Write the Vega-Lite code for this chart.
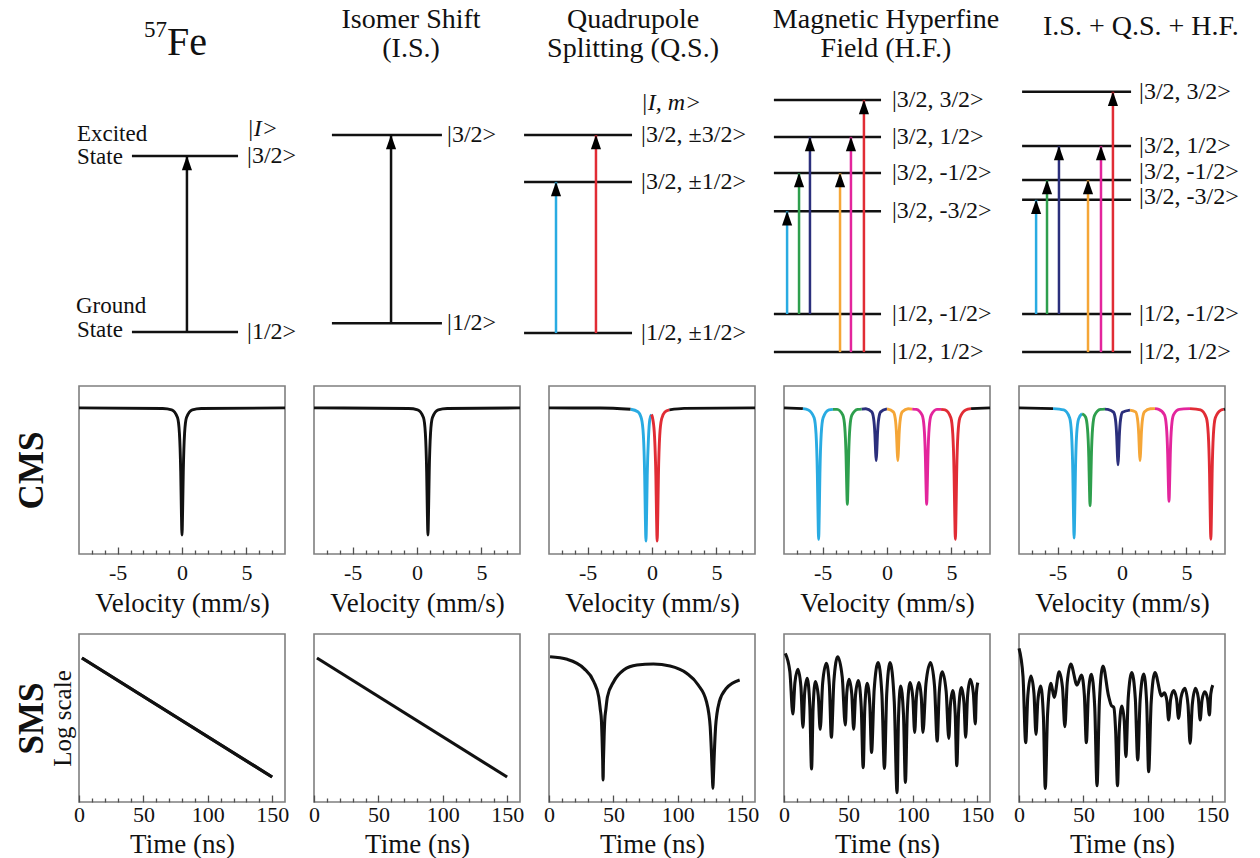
{
  "$schema": "https://vega.github.io/schema/vega-lite/v6.json",
  "background": "white",
  "padding": {"left": 13, "top": 0, "right": 4, "bottom": 2},
  "columns": 5,
  "spacing": {"row": 20, "column": 29},
  "bounds": "flush",
  "align": "each",
  "config": {
    "font": "Liberation Serif",
    "view": {"stroke": "#7f7f7f", "strokeWidth": 1.6},
    "axis": {
      "labelFont": "Liberation Serif", "titleFont": "Liberation Serif",
      "labelFontSize": 21, "titleFontSize": 27, "titleFontWeight": "normal",
      "labelColor": "#111111", "titleColor": "#111111",
      "tickColor": "#505050", "tickWidth": 1.3, "domain": false, "grid": false,
      "labelFlush": false, "labelOverlap": false
    },
    "text": {"font": "Liberation Serif", "color": "#111111"}
  },
  "datasets": {
    "levels": [
      {"col": 1, "x": 25.7, "x2": 77.2, "e": 57.4},
      {"col": 1, "x": 25.7, "x2": 77.2, "e": 9.3},
      {"col": 2, "x": 8.7, "x2": 62.1, "e": 63.1},
      {"col": 2, "x": 8.7, "x2": 62.1, "e": 11.7},
      {"col": 3, "x": -12.1, "x2": 40.3, "e": 63.1},
      {"col": 3, "x": -12.1, "x2": 40.3, "e": 50.3},
      {"col": 3, "x": -12.1, "x2": 40.3, "e": 9.0},
      {"col": 4, "x": -4.9, "x2": 47.1, "e": 72.7},
      {"col": 4, "x": -4.9, "x2": 47.1, "e": 62.6},
      {"col": 4, "x": -4.9, "x2": 47.1, "e": 52.7},
      {"col": 4, "x": -4.9, "x2": 47.1, "e": 42.3},
      {"col": 4, "x": -4.9, "x2": 47.1, "e": 14.2},
      {"col": 4, "x": -4.9, "x2": 47.1, "e": 3.8},
      {"col": 5, "x": 1.5, "x2": 54.4, "e": 74.9},
      {"col": 5, "x": 1.5, "x2": 54.4, "e": 60.1},
      {"col": 5, "x": 1.5, "x2": 54.4, "e": 50.8},
      {"col": 5, "x": 1.5, "x2": 54.4, "e": 45.4},
      {"col": 5, "x": 1.5, "x2": 54.4, "e": 14.2},
      {"col": 5, "x": 1.5, "x2": 54.4, "e": 3.8}
    ],
    "arrows": [
      {"col": 1, "x": 52.4, "e": 57.4, "e0": 9.3, "c": "k"},
      {"col": 2, "x": 37.4, "e": 63.1, "e0": 11.7, "c": "k"},
      {"col": 3, "x": 3.4, "e": 50.3, "e0": 9.0, "c": "cyan"},
      {"col": 3, "x": 22.8, "e": 63.1, "e0": 9.0, "c": "red"},
      {"col": 4, "x": 1.5, "e": 42.3, "e0": 14.2, "c": "cyan"},
      {"col": 4, "x": 7.3, "e": 52.7, "e0": 14.2, "c": "green"},
      {"col": 4, "x": 12.6, "e": 62.6, "e0": 14.2, "c": "navy"},
      {"col": 4, "x": 27.2, "e": 52.7, "e0": 3.8, "c": "orange"},
      {"col": 4, "x": 32.5, "e": 62.6, "e0": 3.8, "c": "magenta"},
      {"col": 4, "x": 38.8, "e": 72.7, "e0": 3.8, "c": "red"},
      {"col": 5, "x": 8.3, "e": 45.4, "e0": 14.2, "c": "cyan"},
      {"col": 5, "x": 13.6, "e": 50.8, "e0": 14.2, "c": "green"},
      {"col": 5, "x": 19.4, "e": 60.1, "e0": 14.2, "c": "navy"},
      {"col": 5, "x": 33.5, "e": 50.8, "e0": 3.8, "c": "orange"},
      {"col": 5, "x": 39.8, "e": 60.1, "e0": 3.8, "c": "magenta"},
      {"col": 5, "x": 45.6, "e": 74.9, "e0": 3.8, "c": "red"}
    ],
    "states": [
      {"col": 1, "x": 81.6, "e": 57.4, "t": "|3/2>"},
      {"col": 1, "x": 81.6, "e": 9.3, "t": "|1/2>"},
      {"col": 2, "x": 64.6, "e": 63.1, "t": "|3/2>"},
      {"col": 2, "x": 64.6, "e": 11.7, "t": "|1/2>"},
      {"col": 3, "x": 44.7, "e": 63.1, "t": "|3/2, ±3/2>"},
      {"col": 3, "x": 44.7, "e": 50.3, "t": "|3/2, ±1/2>"},
      {"col": 3, "x": 44.7, "e": 9.0, "t": "|1/2, ±1/2>"},
      {"col": 4, "x": 52.4, "e": 72.7, "t": "|3/2, 3/2>"},
      {"col": 4, "x": 52.4, "e": 62.6, "t": "|3/2, 1/2>"},
      {"col": 4, "x": 52.4, "e": 52.7, "t": "|3/2, -1/2>"},
      {"col": 4, "x": 52.4, "e": 42.3, "t": "|3/2, -3/2>"},
      {"col": 4, "x": 52.4, "e": 14.2, "t": "|1/2, -1/2>"},
      {"col": 4, "x": 52.4, "e": 3.8, "t": "|1/2, 1/2>"},
      {"col": 5, "x": 58.3, "e": 74.9, "t": "|3/2, 3/2>"},
      {"col": 5, "x": 58.3, "e": 60.1, "t": "|3/2, 1/2>"},
      {"col": 5, "x": 58.3, "e": 53.0, "t": "|3/2, -1/2>"},
      {"col": 5, "x": 58.3, "e": 46.2, "t": "|3/2, -3/2>"},
      {"col": 5, "x": 58.3, "e": 14.2, "t": "|1/2, -1/2>"},
      {"col": 5, "x": 58.3, "e": 3.8, "t": "|1/2, 1/2>"}
    ],
    "sides": [
      {"col": 1, "x": -1.0, "e": 63.4, "t": "Excited"},
      {"col": 1, "x": -1.0, "e": 57.0, "t": "State"},
      {"col": 1, "x": -1.5, "e": 16.4, "t": "Ground"},
      {"col": 1, "x": -1.0, "e": 9.8, "t": "State"}
    ],
    "quantum": [
      {"col": 1, "x": 81.6, "e": 64.8, "t": "|I>"},
      {"col": 3, "x": 44.7, "e": 71.9, "t": "|I, m>"}
    ],
    "heads": [
      {"col": 2, "x": 47.1, "e": 92.3, "t": "Isomer Shift"},
      {"col": 2, "x": 47.1, "e": 84.4, "t": "(I.S.)"},
      {"col": 3, "x": 40.8, "e": 92.3, "t": "Quadrupole"},
      {"col": 3, "x": 40.8, "e": 84.4, "t": "Splitting (Q.S.)"},
      {"col": 4, "x": 49.5, "e": 92.3, "t": "Magnetic Hyperfine"},
      {"col": 4, "x": 49.5, "e": 84.4, "t": "Field (H.F.)"},
      {"col": 5, "x": 59.2, "e": 90.4, "t": "I.S. + Q.S. + H.F."}
    ],
    "cms1": [
      {"c": "k", "v": -8, "tr": 1}, {"c": "k", "v": -1.5, "tr": 0.996}, {"c": "k", "v": -0.8, "tr": 0.987},
      {"c": "k", "v": -0.35, "tr": 0.934}, {"c": "k", "v": -0.2, "tr": 0.826}, {"c": "k", "v": -0.1, "tr": 0.565},
      {"c": "k", "v": -0.05, "tr": 0.304}, {"c": "k", "v": 0, "tr": 0.13}, {"c": "k", "v": 0.05, "tr": 0.304},
      {"c": "k", "v": 0.1, "tr": 0.565}, {"c": "k", "v": 0.2, "tr": 0.826}, {"c": "k", "v": 0.35, "tr": 0.934},
      {"c": "k", "v": 0.8, "tr": 0.987}, {"c": "k", "v": 1.5, "tr": 0.996}, {"c": "k", "v": 8, "tr": 1}
    ],
    "cms2": [
      {"c": "k", "v": -8, "tr": 1}, {"c": "k", "v": -0.65, "tr": 0.996}, {"c": "k", "v": 0.05, "tr": 0.987},
      {"c": "k", "v": 0.5, "tr": 0.934}, {"c": "k", "v": 0.65, "tr": 0.826}, {"c": "k", "v": 0.75, "tr": 0.565},
      {"c": "k", "v": 0.8, "tr": 0.304}, {"c": "k", "v": 0.85, "tr": 0.13}, {"c": "k", "v": 0.9, "tr": 0.304},
      {"c": "k", "v": 0.95, "tr": 0.565}, {"c": "k", "v": 1.05, "tr": 0.826}, {"c": "k", "v": 1.2, "tr": 0.934},
      {"c": "k", "v": 1.65, "tr": 0.987}, {"c": "k", "v": 2.35, "tr": 0.996}, {"c": "k", "v": 8, "tr": 1}
    ],
    "cms3": [
      {"c": "k", "v": -8, "tr": 1}, {"c": "k", "v": -4, "tr": 0.999}, {"c": "k", "v": -1.66, "tr": 0.991},
      {"c": "cyan", "v": -1.66, "tr": 0.991}, {"c": "cyan", "v": -1.1, "tr": 0.974}, {"c": "cyan", "v": -0.82, "tr": 0.926},
      {"c": "cyan", "v": -0.67, "tr": 0.812}, {"c": "cyan", "v": -0.57, "tr": 0.541}, {"c": "cyan", "v": -0.52, "tr": 0.269},
      {"c": "cyan", "v": -0.47, "tr": 0.088}, {"c": "cyan", "v": -0.42, "tr": 0.267}, {"c": "cyan", "v": -0.37, "tr": 0.535},
      {"c": "cyan", "v": -0.27, "tr": 0.8}, {"c": "cyan", "v": -0.17, "tr": 0.92}, {"c": "cyan", "v": -0.04, "tr": 0.955},
      {"c": "red", "v": -0.04, "tr": 0.955}, {"c": "red", "v": 0.07, "tr": 0.92}, {"c": "red", "v": 0.2, "tr": 0.8},
      {"c": "red", "v": 0.3, "tr": 0.535}, {"c": "red", "v": 0.35, "tr": 0.267}, {"c": "red", "v": 0.4, "tr": 0.088},
      {"c": "red", "v": 0.45, "tr": 0.269}, {"c": "red", "v": 0.5, "tr": 0.541}, {"c": "red", "v": 0.6, "tr": 0.812},
      {"c": "red", "v": 0.75, "tr": 0.926}, {"c": "red", "v": 1.0, "tr": 0.972}, {"c": "red", "v": 1.35, "tr": 0.987},
      {"c": "k2", "v": 1.35, "tr": 0.987}, {"c": "k2", "v": 2.5, "tr": 0.997}, {"c": "k2", "v": 8, "tr": 1}
    ],
    "cms4": [
      {"c": "k", "v": -8, "tr": 1}, {"c": "k", "v": -6.53, "tr": 0.995},
      {"c": "cyan", "v": -6.53, "tr": 0.995}, {"c": "cyan", "v": -6.11, "tr": 0.986}, {"c": "cyan", "v": -5.66, "tr": 0.932},
      {"c": "cyan", "v": -5.51, "tr": 0.82}, {"c": "cyan", "v": -5.41, "tr": 0.55}, {"c": "cyan", "v": -5.36, "tr": 0.28},
      {"c": "cyan", "v": -5.31, "tr": 0.1}, {"c": "cyan", "v": -5.26, "tr": 0.28}, {"c": "cyan", "v": -5.21, "tr": 0.55},
      {"c": "cyan", "v": -5.11, "tr": 0.82}, {"c": "cyan", "v": -4.96, "tr": 0.932}, {"c": "cyan", "v": -4.51, "tr": 0.986},
      {"c": "cyan", "v": -4.2, "tr": 0.99},
      {"c": "green", "v": -4.2, "tr": 0.99}, {"c": "green", "v": -3.88, "tr": 0.99}, {"c": "green", "v": -3.43, "tr": 0.95},
      {"c": "green", "v": -3.28, "tr": 0.868}, {"c": "green", "v": -3.18, "tr": 0.67}, {"c": "green", "v": -3.13, "tr": 0.472},
      {"c": "green", "v": -3.08, "tr": 0.34}, {"c": "green", "v": -3.03, "tr": 0.472}, {"c": "green", "v": -2.98, "tr": 0.67},
      {"c": "green", "v": -2.88, "tr": 0.868}, {"c": "green", "v": -2.73, "tr": 0.95}, {"c": "green", "v": -2.28, "tr": 0.99},
      {"c": "green", "v": -1.96, "tr": 0.992},
      {"c": "navy", "v": -1.96, "tr": 0.992}, {"c": "navy", "v": -1.64, "tr": 0.994}, {"c": "navy", "v": -1.19, "tr": 0.973},
      {"c": "navy", "v": -1.04, "tr": 0.928}, {"c": "navy", "v": -0.94, "tr": 0.82}, {"c": "navy", "v": -0.89, "tr": 0.712},
      {"c": "navy", "v": -0.84, "tr": 0.64}, {"c": "navy", "v": -0.79, "tr": 0.712}, {"c": "navy", "v": -0.74, "tr": 0.82},
      {"c": "navy", "v": -0.64, "tr": 0.928}, {"c": "navy", "v": -0.49, "tr": 0.973}, {"c": "navy", "v": 0, "tr": 0.993},
      {"c": "orange", "v": 0, "tr": 0.993}, {"c": "orange", "v": 0.49, "tr": 0.973}, {"c": "orange", "v": 0.64, "tr": 0.928},
      {"c": "orange", "v": 0.74, "tr": 0.82}, {"c": "orange", "v": 0.79, "tr": 0.712}, {"c": "orange", "v": 0.84, "tr": 0.64},
      {"c": "orange", "v": 0.89, "tr": 0.712}, {"c": "orange", "v": 0.94, "tr": 0.82}, {"c": "orange", "v": 1.04, "tr": 0.928},
      {"c": "orange", "v": 1.19, "tr": 0.973}, {"c": "orange", "v": 1.64, "tr": 0.994}, {"c": "orange", "v": 1.96, "tr": 0.992},
      {"c": "magenta", "v": 1.96, "tr": 0.992}, {"c": "magenta", "v": 2.28, "tr": 0.99}, {"c": "magenta", "v": 2.73, "tr": 0.95},
      {"c": "magenta", "v": 2.88, "tr": 0.868}, {"c": "magenta", "v": 2.98, "tr": 0.67}, {"c": "magenta", "v": 3.03, "tr": 0.472},
      {"c": "magenta", "v": 3.08, "tr": 0.34}, {"c": "magenta", "v": 3.13, "tr": 0.472}, {"c": "magenta", "v": 3.18, "tr": 0.67},
      {"c": "magenta", "v": 3.28, "tr": 0.868}, {"c": "magenta", "v": 3.43, "tr": 0.95}, {"c": "magenta", "v": 3.88, "tr": 0.99},
      {"c": "magenta", "v": 4.2, "tr": 0.99},
      {"c": "red", "v": 4.2, "tr": 0.99}, {"c": "red", "v": 4.51, "tr": 0.986}, {"c": "red", "v": 4.96, "tr": 0.932},
      {"c": "red", "v": 5.11, "tr": 0.82}, {"c": "red", "v": 5.21, "tr": 0.55}, {"c": "red", "v": 5.26, "tr": 0.28},
      {"c": "red", "v": 5.31, "tr": 0.1}, {"c": "red", "v": 5.36, "tr": 0.28}, {"c": "red", "v": 5.41, "tr": 0.55},
      {"c": "red", "v": 5.51, "tr": 0.82}, {"c": "red", "v": 5.66, "tr": 0.932}, {"c": "red", "v": 6.11, "tr": 0.986},
      {"c": "red", "v": 6.53, "tr": 0.995},
      {"c": "k2", "v": 6.53, "tr": 0.995}, {"c": "k2", "v": 8, "tr": 1}
    ],
    "cms5": [
      {"c": "k", "v": -8, "tr": 1}, {"c": "k", "v": -5.36, "tr": 0.995},
      {"c": "cyan", "v": -5.36, "tr": 0.995}, {"c": "cyan", "v": -4.52, "tr": 0.986}, {"c": "cyan", "v": -4.07, "tr": 0.933},
      {"c": "cyan", "v": -3.92, "tr": 0.822}, {"c": "cyan", "v": -3.82, "tr": 0.555}, {"c": "cyan", "v": -3.77, "tr": 0.288},
      {"c": "cyan", "v": -3.72, "tr": 0.11}, {"c": "cyan", "v": -3.67, "tr": 0.288}, {"c": "cyan", "v": -3.62, "tr": 0.555},
      {"c": "cyan", "v": -3.52, "tr": 0.822}, {"c": "cyan", "v": -3.37, "tr": 0.925}, {"c": "cyan", "v": -3.1, "tr": 0.96},
      {"c": "green", "v": -3.1, "tr": 0.96}, {"c": "green", "v": -2.83, "tr": 0.938}, {"c": "green", "v": -2.68, "tr": 0.858},
      {"c": "green", "v": -2.58, "tr": 0.665}, {"c": "green", "v": -2.53, "tr": 0.464}, {"c": "green", "v": -2.48, "tr": 0.33},
      {"c": "green", "v": -2.43, "tr": 0.464}, {"c": "green", "v": -2.38, "tr": 0.665}, {"c": "green", "v": -2.28, "tr": 0.866},
      {"c": "green", "v": -2.13, "tr": 0.949}, {"c": "green", "v": -1.68, "tr": 0.99}, {"c": "green", "v": -1.32, "tr": 0.992},
      {"c": "navy", "v": -1.32, "tr": 0.992}, {"c": "navy", "v": -1.11, "tr": 0.99}, {"c": "navy", "v": -0.66, "tr": 0.971},
      {"c": "navy", "v": -0.51, "tr": 0.922}, {"c": "navy", "v": -0.41, "tr": 0.805}, {"c": "navy", "v": -0.36, "tr": 0.688},
      {"c": "navy", "v": -0.31, "tr": 0.61}, {"c": "navy", "v": -0.26, "tr": 0.688}, {"c": "navy", "v": -0.21, "tr": 0.805},
      {"c": "navy", "v": -0.11, "tr": 0.922}, {"c": "navy", "v": 0.04, "tr": 0.97}, {"c": "navy", "v": 0.62, "tr": 0.985},
      {"c": "orange", "v": 0.62, "tr": 0.985}, {"c": "orange", "v": 1.05, "tr": 0.973}, {"c": "orange", "v": 1.2, "tr": 0.928},
      {"c": "orange", "v": 1.3, "tr": 0.82}, {"c": "orange", "v": 1.35, "tr": 0.712}, {"c": "orange", "v": 1.4, "tr": 0.64},
      {"c": "orange", "v": 1.45, "tr": 0.712}, {"c": "orange", "v": 1.5, "tr": 0.82}, {"c": "orange", "v": 1.6, "tr": 0.928},
      {"c": "orange", "v": 1.75, "tr": 0.973}, {"c": "orange", "v": 2.2, "tr": 0.994}, {"c": "orange", "v": 2.56, "tr": 0.995},
      {"c": "magenta", "v": 2.56, "tr": 0.995}, {"c": "magenta", "v": 2.85, "tr": 0.99}, {"c": "magenta", "v": 3.3, "tr": 0.952},
      {"c": "magenta", "v": 3.45, "tr": 0.872}, {"c": "magenta", "v": 3.55, "tr": 0.68}, {"c": "magenta", "v": 3.6, "tr": 0.488},
      {"c": "magenta", "v": 3.65, "tr": 0.36}, {"c": "magenta", "v": 3.7, "tr": 0.488}, {"c": "magenta", "v": 3.75, "tr": 0.68},
      {"c": "magenta", "v": 3.85, "tr": 0.872}, {"c": "magenta", "v": 4.0, "tr": 0.952}, {"c": "magenta", "v": 4.45, "tr": 0.99},
      {"c": "magenta", "v": 5.28, "tr": 0.995},
      {"c": "red", "v": 5.28, "tr": 0.995}, {"c": "red", "v": 6.1, "tr": 0.986}, {"c": "red", "v": 6.55, "tr": 0.932},
      {"c": "red", "v": 6.7, "tr": 0.82}, {"c": "red", "v": 6.8, "tr": 0.55}, {"c": "red", "v": 6.85, "tr": 0.28},
      {"c": "red", "v": 6.9, "tr": 0.1}, {"c": "red", "v": 6.95, "tr": 0.28}, {"c": "red", "v": 7.0, "tr": 0.55},
      {"c": "red", "v": 7.1, "tr": 0.82}, {"c": "red", "v": 7.25, "tr": 0.932}, {"c": "red", "v": 7.7, "tr": 0.986},
      {"c": "red", "v": 7.9, "tr": 0.99},
      {"c": "k2", "v": 7.9, "tr": 0.99}, {"c": "k2", "v": 8, "tr": 0.992}
    ],
    "sms1": [{"t": 2.3, "lg": -0.429}, {"t": 150, "lg": -2.554}],
    "sms2": [{"t": 2.3, "lg": -0.429}, {"t": 150, "lg": -2.554}],
    "sms3": [
      {"t": 0.8, "lg": -0.405}, {"t": 14.1, "lg": -0.452}, {"t": 27, "lg": -0.613}, {"t": 34.8, "lg": -0.852},
      {"t": 38.6, "lg": -1.12}, {"t": 39.9, "lg": -1.357}, {"t": 40.7, "lg": -1.536}, {"t": 41.2, "lg": -1.834},
      {"t": 41.7, "lg": -2.25}, {"t": 42.0, "lg": -2.607}, {"t": 42.3, "lg": -2.25}, {"t": 42.8, "lg": -1.834},
      {"t": 43.3, "lg": -1.536}, {"t": 44.1, "lg": -1.357}, {"t": 45.4, "lg": -1.12}, {"t": 50.2, "lg": -0.852},
      {"t": 58, "lg": -0.643}, {"t": 68.3, "lg": -0.554}, {"t": 81.1, "lg": -0.536}, {"t": 94, "lg": -0.571},
      {"t": 106.9, "lg": -0.702}, {"t": 115.9, "lg": -0.911}, {"t": 122.3, "lg": -1.209}, {"t": 124.1, "lg": -1.416},
      {"t": 125.2, "lg": -1.655}, {"t": 126.2, "lg": -2.125}, {"t": 127.0, "lg": -2.607}, {"t": 127.3, "lg": -2.755},
      {"t": 127.6, "lg": -2.607}, {"t": 128.4, "lg": -2.125}, {"t": 129.4, "lg": -1.655}, {"t": 130.5, "lg": -1.416},
      {"t": 132.3, "lg": -1.209}, {"t": 137.8, "lg": -0.97}, {"t": 148.1, "lg": -0.821}
    ],
    "sms4": [
      {"t": 1.0, "lg": -0.345}, {"t": 4.54, "lg": -0.67}, {"t": 6.9, "lg": -1.429}, {"t": 8.46, "lg": -0.87},
      {"t": 10.8, "lg": -0.631}, {"t": 13.14, "lg": -0.942}, {"t": 14.7, "lg": -1.667}, {"t": 16.02, "lg": -1.054},
      {"t": 18.0, "lg": -0.792}, {"t": 20.04, "lg": -1.278}, {"t": 21.4, "lg": -2.411}, {"t": 22.6, "lg": -1.319},
      {"t": 24.4, "lg": -0.851}, {"t": 26.62, "lg": -1.106}, {"t": 28.1, "lg": -1.702}, {"t": 30.02, "lg": -0.877},
      {"t": 32.9, "lg": -0.524}, {"t": 35.24, "lg": -0.92}, {"t": 36.8, "lg": -1.845}, {"t": 38.76, "lg": -0.837},
      {"t": 41.7, "lg": -0.405}, {"t": 45.24, "lg": -0.771}, {"t": 47.6, "lg": -1.625}, {"t": 48.76, "lg": -1.055},
      {"t": 50.5, "lg": -0.81}, {"t": 52.66, "lg": -1.078}, {"t": 54.1, "lg": -1.702}, {"t": 55.54, "lg": -1.094},
      {"t": 57.7, "lg": -0.833}, {"t": 59.98, "lg": -1.299}, {"t": 61.5, "lg": -2.387}, {"t": 62.74, "lg": -1.333},
      {"t": 64.6, "lg": -0.881}, {"t": 66.64, "lg": -1.251}, {"t": 68.0, "lg": -2.113}, {"t": 70.04, "lg": -0.992},
      {"t": 73.1, "lg": -0.512}, {"t": 76.04, "lg": -1.078}, {"t": 78.0, "lg": -2.399}, {"t": 79.76, "lg": -1.078},
      {"t": 82.4, "lg": -0.512}, {"t": 85.64, "lg": -1.208}, {"t": 87.8, "lg": -2.833}, {"t": 88.92, "lg": -1.5},
      {"t": 90.6, "lg": -0.929}, {"t": 92.82, "lg": -1.445}, {"t": 94.3, "lg": -2.649}, {"t": 95.74, "lg": -1.403},
      {"t": 97.9, "lg": -0.869}, {"t": 100.06, "lg": -1.135}, {"t": 101.5, "lg": -1.756}, {"t": 102.82, "lg": -1.135},
      {"t": 104.8, "lg": -0.869}, {"t": 106.66, "lg": -1.135}, {"t": 107.9, "lg": -1.756}, {"t": 110.26, "lg": -0.885},
      {"t": 113.8, "lg": -0.512}, {"t": 116.92, "lg": -0.932}, {"t": 119.0, "lg": -1.911}, {"t": 120.56, "lg": -1.044},
      {"t": 122.9, "lg": -0.673}, {"t": 125.96, "lg": -1.03}, {"t": 128.0, "lg": -1.863}, {"t": 129.24, "lg": -1.267},
      {"t": 131.1, "lg": -1.012}, {"t": 132.96, "lg": -1.414}, {"t": 134.2, "lg": -2.351}, {"t": 135.64, "lg": -1.376},
      {"t": 137.8, "lg": -0.958}, {"t": 139.78, "lg": -1.224}, {"t": 141.1, "lg": -1.845}, {"t": 142.54, "lg": -1.121},
      {"t": 144.7, "lg": -0.81}, {"t": 147.04, "lg": -1.049}, {"t": 148.6, "lg": -1.607}, {"t": 149.36, "lg": -1.09},
      {"t": 150.5, "lg": -0.869}
    ],
    "sms5": [
      {"t": 0.0, "lg": -0.256}, {"t": 3.12, "lg": -0.761}, {"t": 5.2, "lg": -1.94}, {"t": 6.84, "lg": -1.107},
      {"t": 9.3, "lg": -0.75}, {"t": 11.64, "lg": -1.063}, {"t": 13.2, "lg": -1.792}, {"t": 14.64, "lg": -1.188},
      {"t": 16.8, "lg": -0.929}, {"t": 18.96, "lg": -1.477}, {"t": 20.4, "lg": -2.756}, {"t": 22.16, "lg": -1.444},
      {"t": 24.8, "lg": -0.881}, {"t": 27.3, "lg": -1.131}, {"t": 31.2, "lg": -0.673}, {"t": 33.84, "lg": -0.968},
      {"t": 35.6, "lg": -1.655}, {"t": 37.44, "lg": -0.872}, {"t": 40.2, "lg": -0.536}, {"t": 45.1, "lg": -0.911},
      {"t": 48.5, "lg": -0.732}, {"t": 50.78, "lg": -1.094}, {"t": 52.3, "lg": -1.94}, {"t": 53.86, "lg": -1.086},
      {"t": 56.2, "lg": -0.72}, {"t": 58.84, "lg": -1.316}, {"t": 60.6, "lg": -2.708}, {"t": 62.44, "lg": -1.212},
      {"t": 65.2, "lg": -0.571}, {"t": 69.5, "lg": -1.1}, {"t": 71.8, "lg": -1.28}, {"t": 73.6, "lg": -1.31},
      {"t": 75.06, "lg": -1.729}, {"t": 76.5, "lg": -2.708}, {"t": 77.86, "lg": -1.713}, {"t": 79.9, "lg": -1.286},
      {"t": 81.76, "lg": -1.557}, {"t": 83.0, "lg": -2.19}, {"t": 84.84, "lg": -1.14}, {"t": 87.6, "lg": -0.69},
      {"t": 90.36, "lg": -1.158}, {"t": 92.2, "lg": -2.25}, {"t": 94.08, "lg": -1.175}, {"t": 96.9, "lg": -0.714},
      {"t": 99.18, "lg": -1.237}, {"t": 100.7, "lg": -2.458}, {"t": 102.66, "lg": -1.22}, {"t": 105.6, "lg": -0.69},
      {"t": 110.8, "lg": -1.107}, {"t": 112.9, "lg": -1.048}, {"t": 114.88, "lg": -1.194}, {"t": 116.2, "lg": -1.536},
      {"t": 117.76, "lg": -1.169}, {"t": 120.1, "lg": -1.012}, {"t": 122.38, "lg": -1.16}, {"t": 123.9, "lg": -1.506},
      {"t": 125.86, "lg": -1.131}, {"t": 128.8, "lg": -0.97}, {"t": 131.26, "lg": -1.265}, {"t": 132.9, "lg": -1.952},
      {"t": 134.58, "lg": -1.265}, {"t": 137.1, "lg": -0.97}, {"t": 139.26, "lg": -1.14}, {"t": 140.7, "lg": -1.536},
      {"t": 142.14, "lg": -1.182}, {"t": 144.3, "lg": -1.03}, {"t": 146.46, "lg": -1.155}, {"t": 147.9, "lg": -1.446},
      {"t": 148.94, "lg": -1.072}, {"t": 150.5, "lg": -0.911}
    ]
  },
  "concat": [
    {
      "width": 206, "height": 366, "view": {"stroke": null},
      "encoding": {
        "x": {"field": "x", "type": "quantitative", "scale": {"domain": [0, 100], "nice": false, "zero": false}, "axis": null},
        "y": {"field": "e", "type": "quantitative", "scale": {"domain": [0, 100], "nice": false, "zero": false}, "axis": null}
      },
      "layer": [
        {"data": {"name": "levels"}, "transform": [{"filter": "datum.col === 1"}], "mark": {"type": "rule", "strokeWidth": 2.5, "color": "#111111"}, "encoding": {"x2": {"field": "x2"}}},
        {"data": {"name": "arrows"}, "transform": [{"filter": "datum.col === 1"}], "mark": {"type": "rule", "strokeWidth": 2.5}, "encoding": {"y2": {"field": "e0"}, "color": {"field": "c", "type": "nominal", "legend": null, "scale": {"domain": ["k", "k2", "cyan", "green", "navy", "orange", "magenta", "red"], "range": ["#111111", "#111111", "#29abe2", "#2e9f4d", "#2b2f7c", "#f5a637", "#e3259c", "#e12c35"]}}}},
        {"data": {"name": "arrows"}, "transform": [{"filter": "datum.col === 1"}], "mark": {"type": "point", "shape": "M0,-1L-0.7,1L0.7,1Z", "filled": true, "color": "#000000", "opacity": 1, "size": 210, "yOffset": 7}},
        {"data": {"name": "states"}, "transform": [{"filter": "datum.col === 1"}], "mark": {"type": "text", "align": "left", "baseline": "middle", "fontSize": 24}, "encoding": {"text": {"field": "t"}}},
        {"data": {"name": "sides"}, "mark": {"type": "text", "align": "left", "baseline": "middle", "fontSize": 23}, "encoding": {"text": {"field": "t"}}},
        {"data": {"name": "quantum"}, "transform": [{"filter": "datum.col === 1"}], "mark": {"type": "text", "align": "left", "baseline": "middle", "fontSize": 24, "fontStyle": "italic"}, "encoding": {"text": {"field": "t"}}},
        {"data": {"values": [{"x": 42.7, "e": 90.0, "t": "57"}]}, "mark": {"type": "text", "align": "right", "baseline": "alphabetic", "fontSize": 23}, "encoding": {"text": {"field": "t"}}},
        {"data": {"values": [{"x": 42.7, "e": 85.0, "t": "Fe"}]}, "mark": {"type": "text", "align": "left", "baseline": "alphabetic", "fontSize": 40}, "encoding": {"text": {"field": "t"}}}
      ]
    },
    {
      "width": 206, "height": 366, "view": {"stroke": null},
      "encoding": {
        "x": {"field": "x", "type": "quantitative", "scale": {"domain": [0, 100], "nice": false, "zero": false}, "axis": null},
        "y": {"field": "e", "type": "quantitative", "scale": {"domain": [0, 100], "nice": false, "zero": false}, "axis": null}
      },
      "layer": [
        {"data": {"name": "levels"}, "transform": [{"filter": "datum.col === 2"}], "mark": {"type": "rule", "strokeWidth": 2.5, "color": "#111111"}, "encoding": {"x2": {"field": "x2"}}},
        {"data": {"name": "arrows"}, "transform": [{"filter": "datum.col === 2"}], "mark": {"type": "rule", "strokeWidth": 2.5}, "encoding": {"y2": {"field": "e0"}, "color": {"field": "c", "type": "nominal", "legend": null, "scale": {"domain": ["k", "k2", "cyan", "green", "navy", "orange", "magenta", "red"], "range": ["#111111", "#111111", "#29abe2", "#2e9f4d", "#2b2f7c", "#f5a637", "#e3259c", "#e12c35"]}}}},
        {"data": {"name": "arrows"}, "transform": [{"filter": "datum.col === 2"}], "mark": {"type": "point", "shape": "M0,-1L-0.7,1L0.7,1Z", "filled": true, "color": "#000000", "opacity": 1, "size": 210, "yOffset": 7}},
        {"data": {"name": "states"}, "transform": [{"filter": "datum.col === 2"}], "mark": {"type": "text", "align": "left", "baseline": "middle", "fontSize": 24}, "encoding": {"text": {"field": "t"}}},
        {"data": {"name": "heads"}, "transform": [{"filter": "datum.col === 2"}], "mark": {"type": "text", "align": "center", "baseline": "alphabetic", "fontSize": 28}, "encoding": {"text": {"field": "t"}}}
      ]
    },
    {
      "width": 206, "height": 366, "view": {"stroke": null},
      "encoding": {
        "x": {"field": "x", "type": "quantitative", "scale": {"domain": [0, 100], "nice": false, "zero": false}, "axis": null},
        "y": {"field": "e", "type": "quantitative", "scale": {"domain": [0, 100], "nice": false, "zero": false}, "axis": null}
      },
      "layer": [
        {"data": {"name": "levels"}, "transform": [{"filter": "datum.col === 3"}], "mark": {"type": "rule", "strokeWidth": 2.5, "color": "#111111"}, "encoding": {"x2": {"field": "x2"}}},
        {"data": {"name": "arrows"}, "transform": [{"filter": "datum.col === 3"}], "mark": {"type": "rule", "strokeWidth": 2.5}, "encoding": {"y2": {"field": "e0"}, "color": {"field": "c", "type": "nominal", "legend": null, "scale": {"domain": ["k", "k2", "cyan", "green", "navy", "orange", "magenta", "red"], "range": ["#111111", "#111111", "#29abe2", "#2e9f4d", "#2b2f7c", "#f5a637", "#e3259c", "#e12c35"]}}}},
        {"data": {"name": "arrows"}, "transform": [{"filter": "datum.col === 3"}], "mark": {"type": "point", "shape": "M0,-1L-0.7,1L0.7,1Z", "filled": true, "color": "#000000", "opacity": 1, "size": 210, "yOffset": 7}},
        {"data": {"name": "states"}, "transform": [{"filter": "datum.col === 3"}], "mark": {"type": "text", "align": "left", "baseline": "middle", "fontSize": 24}, "encoding": {"text": {"field": "t"}}},
        {"data": {"name": "quantum"}, "transform": [{"filter": "datum.col === 3"}], "mark": {"type": "text", "align": "left", "baseline": "middle", "fontSize": 24, "fontStyle": "italic"}, "encoding": {"text": {"field": "t"}}},
        {"data": {"name": "heads"}, "transform": [{"filter": "datum.col === 3"}], "mark": {"type": "text", "align": "center", "baseline": "alphabetic", "fontSize": 28}, "encoding": {"text": {"field": "t"}}}
      ]
    },
    {
      "width": 206, "height": 366, "view": {"stroke": null},
      "encoding": {
        "x": {"field": "x", "type": "quantitative", "scale": {"domain": [0, 100], "nice": false, "zero": false}, "axis": null},
        "y": {"field": "e", "type": "quantitative", "scale": {"domain": [0, 100], "nice": false, "zero": false}, "axis": null}
      },
      "layer": [
        {"data": {"name": "levels"}, "transform": [{"filter": "datum.col === 4"}], "mark": {"type": "rule", "strokeWidth": 2.5, "color": "#111111"}, "encoding": {"x2": {"field": "x2"}}},
        {"data": {"name": "arrows"}, "transform": [{"filter": "datum.col === 4"}], "mark": {"type": "rule", "strokeWidth": 2.5}, "encoding": {"y2": {"field": "e0"}, "color": {"field": "c", "type": "nominal", "legend": null, "scale": {"domain": ["k", "k2", "cyan", "green", "navy", "orange", "magenta", "red"], "range": ["#111111", "#111111", "#29abe2", "#2e9f4d", "#2b2f7c", "#f5a637", "#e3259c", "#e12c35"]}}}},
        {"data": {"name": "arrows"}, "transform": [{"filter": "datum.col === 4"}], "mark": {"type": "point", "shape": "M0,-1L-0.7,1L0.7,1Z", "filled": true, "color": "#000000", "opacity": 1, "size": 210, "yOffset": 7}},
        {"data": {"name": "states"}, "transform": [{"filter": "datum.col === 4"}], "mark": {"type": "text", "align": "left", "baseline": "middle", "fontSize": 24}, "encoding": {"text": {"field": "t"}}},
        {"data": {"name": "heads"}, "transform": [{"filter": "datum.col === 4"}], "mark": {"type": "text", "align": "center", "baseline": "alphabetic", "fontSize": 28}, "encoding": {"text": {"field": "t"}}}
      ]
    },
    {
      "width": 206, "height": 366, "view": {"stroke": null},
      "encoding": {
        "x": {"field": "x", "type": "quantitative", "scale": {"domain": [0, 100], "nice": false, "zero": false}, "axis": null},
        "y": {"field": "e", "type": "quantitative", "scale": {"domain": [0, 100], "nice": false, "zero": false}, "axis": null}
      },
      "layer": [
        {"data": {"name": "levels"}, "transform": [{"filter": "datum.col === 5"}], "mark": {"type": "rule", "strokeWidth": 2.5, "color": "#111111"}, "encoding": {"x2": {"field": "x2"}}},
        {"data": {"name": "arrows"}, "transform": [{"filter": "datum.col === 5"}], "mark": {"type": "rule", "strokeWidth": 2.5}, "encoding": {"y2": {"field": "e0"}, "color": {"field": "c", "type": "nominal", "legend": null, "scale": {"domain": ["k", "k2", "cyan", "green", "navy", "orange", "magenta", "red"], "range": ["#111111", "#111111", "#29abe2", "#2e9f4d", "#2b2f7c", "#f5a637", "#e3259c", "#e12c35"]}}}},
        {"data": {"name": "arrows"}, "transform": [{"filter": "datum.col === 5"}], "mark": {"type": "point", "shape": "M0,-1L-0.7,1L0.7,1Z", "filled": true, "color": "#000000", "opacity": 1, "size": 210, "yOffset": 7}},
        {"data": {"name": "states"}, "transform": [{"filter": "datum.col === 5"}], "mark": {"type": "text", "align": "left", "baseline": "middle", "fontSize": 24}, "encoding": {"text": {"field": "t"}}},
        {"data": {"name": "heads"}, "transform": [{"filter": "datum.col === 5"}], "mark": {"type": "text", "align": "center", "baseline": "alphabetic", "fontSize": 28}, "encoding": {"text": {"field": "t"}}}
      ]
    },
    {
      "width": 206, "height": 168,
      "data": {"name": "cms1"},
      "mark": {"type": "line", "interpolate": "monotone", "strokeWidth": 2.9},
      "encoding": {
        "x": {"field": "v", "type": "quantitative", "scale": {"domain": [-8, 8], "nice": false, "zero": false}, "axis": {"values": [-7, -6, -5, -4, -3, -2, -1, 0, 1, 2, 3, 4, 5, 6, 7], "tickSize": {"condition": {"test": "datum.value % 5 === 0", "value": -7}, "value": -4}, "labelExpr": "datum.value % 5 === 0 ? replace(datum.label, '−', '-') : ''", "labelFont": "Liberation Serif", "titleFont": "Liberation Serif", "labelFontSize": 22, "titleFontSize": 27, "labelPadding": 15, "title": "Velocity (mm/s)", "titlePadding": 4}},
        "y": {"field": "tr", "type": "quantitative", "scale": {"domain": [0, 1.15], "nice": false}, "axis": {"title": "CMS", "labels": false, "ticks": false, "titleFont": "Liberation Serif", "titleFontSize": 35, "titleFontWeight": "bold", "titlePadding": 30}},
        "color": {"field": "c", "type": "nominal", "legend": null, "scale": {"domain": ["k", "k2", "cyan", "green", "navy", "orange", "magenta", "red"], "range": ["#111111", "#111111", "#29abe2", "#2e9f4d", "#2b2f7c", "#f5a637", "#e3259c", "#e12c35"]}}
      }
    },
    {
      "width": 206, "height": 168,
      "data": {"name": "cms2"},
      "mark": {"type": "line", "interpolate": "monotone", "strokeWidth": 2.9},
      "encoding": {
        "x": {"field": "v", "type": "quantitative", "scale": {"domain": [-8, 8], "nice": false, "zero": false}, "axis": {"values": [-7, -6, -5, -4, -3, -2, -1, 0, 1, 2, 3, 4, 5, 6, 7], "tickSize": {"condition": {"test": "datum.value % 5 === 0", "value": -7}, "value": -4}, "labelExpr": "datum.value % 5 === 0 ? replace(datum.label, '−', '-') : ''", "labelFont": "Liberation Serif", "titleFont": "Liberation Serif", "labelFontSize": 22, "titleFontSize": 27, "labelPadding": 15, "title": "Velocity (mm/s)", "titlePadding": 4}},
        "y": {"field": "tr", "type": "quantitative", "scale": {"domain": [0, 1.15], "nice": false}, "axis": null},
        "color": {"field": "c", "type": "nominal", "legend": null, "scale": {"domain": ["k", "k2", "cyan", "green", "navy", "orange", "magenta", "red"], "range": ["#111111", "#111111", "#29abe2", "#2e9f4d", "#2b2f7c", "#f5a637", "#e3259c", "#e12c35"]}}
      }
    },
    {
      "width": 206, "height": 168,
      "data": {"name": "cms3"},
      "mark": {"type": "line", "interpolate": "monotone", "strokeWidth": 2.9},
      "encoding": {
        "x": {"field": "v", "type": "quantitative", "scale": {"domain": [-8, 8], "nice": false, "zero": false}, "axis": {"values": [-7, -6, -5, -4, -3, -2, -1, 0, 1, 2, 3, 4, 5, 6, 7], "tickSize": {"condition": {"test": "datum.value % 5 === 0", "value": -7}, "value": -4}, "labelExpr": "datum.value % 5 === 0 ? replace(datum.label, '−', '-') : ''", "labelFont": "Liberation Serif", "titleFont": "Liberation Serif", "labelFontSize": 22, "titleFontSize": 27, "labelPadding": 15, "title": "Velocity (mm/s)", "titlePadding": 4}},
        "y": {"field": "tr", "type": "quantitative", "scale": {"domain": [0, 1.15], "nice": false}, "axis": null},
        "color": {"field": "c", "type": "nominal", "legend": null, "scale": {"domain": ["k", "k2", "cyan", "green", "navy", "orange", "magenta", "red"], "range": ["#111111", "#111111", "#29abe2", "#2e9f4d", "#2b2f7c", "#f5a637", "#e3259c", "#e12c35"]}}
      }
    },
    {
      "width": 206, "height": 168,
      "data": {"name": "cms4"},
      "mark": {"type": "line", "interpolate": "monotone", "strokeWidth": 2.9},
      "encoding": {
        "x": {"field": "v", "type": "quantitative", "scale": {"domain": [-8, 8], "nice": false, "zero": false}, "axis": {"values": [-7, -6, -5, -4, -3, -2, -1, 0, 1, 2, 3, 4, 5, 6, 7], "tickSize": {"condition": {"test": "datum.value % 5 === 0", "value": -7}, "value": -4}, "labelExpr": "datum.value % 5 === 0 ? replace(datum.label, '−', '-') : ''", "labelFont": "Liberation Serif", "titleFont": "Liberation Serif", "labelFontSize": 22, "titleFontSize": 27, "labelPadding": 15, "title": "Velocity (mm/s)", "titlePadding": 4}},
        "y": {"field": "tr", "type": "quantitative", "scale": {"domain": [0, 1.15], "nice": false}, "axis": null},
        "color": {"field": "c", "type": "nominal", "legend": null, "scale": {"domain": ["k", "k2", "cyan", "green", "navy", "orange", "magenta", "red"], "range": ["#111111", "#111111", "#29abe2", "#2e9f4d", "#2b2f7c", "#f5a637", "#e3259c", "#e12c35"]}}
      }
    },
    {
      "width": 206, "height": 168,
      "data": {"name": "cms5"},
      "mark": {"type": "line", "interpolate": "monotone", "strokeWidth": 2.9},
      "encoding": {
        "x": {"field": "v", "type": "quantitative", "scale": {"domain": [-8, 8], "nice": false, "zero": false}, "axis": {"values": [-7, -6, -5, -4, -3, -2, -1, 0, 1, 2, 3, 4, 5, 6, 7], "tickSize": {"condition": {"test": "datum.value % 5 === 0", "value": -7}, "value": -4}, "labelExpr": "datum.value % 5 === 0 ? replace(datum.label, '−', '-') : ''", "labelFont": "Liberation Serif", "titleFont": "Liberation Serif", "labelFontSize": 22, "titleFontSize": 27, "labelPadding": 15, "title": "Velocity (mm/s)", "titlePadding": 4}},
        "y": {"field": "tr", "type": "quantitative", "scale": {"domain": [0, 1.15], "nice": false}, "axis": null},
        "color": {"field": "c", "type": "nominal", "legend": null, "scale": {"domain": ["k", "k2", "cyan", "green", "navy", "orange", "magenta", "red"], "range": ["#111111", "#111111", "#29abe2", "#2e9f4d", "#2b2f7c", "#f5a637", "#e3259c", "#e12c35"]}}
      }
    },
    {"width": 206, "height": 40, "view": {"stroke": null}, "data": {"values": [{}]}, "mark": {"type": "text", "text": ""}, "encoding": {}},
    {"width": 206, "height": 40, "view": {"stroke": null}, "data": {"values": [{}]}, "mark": {"type": "text", "text": ""}, "encoding": {}},
    {"width": 206, "height": 40, "view": {"stroke": null}, "data": {"values": [{}]}, "mark": {"type": "text", "text": ""}, "encoding": {}},
    {"width": 206, "height": 40, "view": {"stroke": null}, "data": {"values": [{}]}, "mark": {"type": "text", "text": ""}, "encoding": {}},
    {"width": 206, "height": 40, "view": {"stroke": null}, "data": {"values": [{}]}, "mark": {"type": "text", "text": ""}, "encoding": {}},
    {
      "width": 206, "height": 168,
      "data": {"name": "sms1"},
      "encoding": {
        "x": {"field": "t", "type": "quantitative", "scale": {"domain": [0, 160], "nice": false, "zero": false}, "axis": {"values": [0, 10, 20, 30, 40, 50, 60, 70, 80, 90, 100, 110, 120, 130, 140, 150], "tickSize": {"condition": {"test": "datum.value % 50 === 0", "value": -7}, "value": -4}, "labelExpr": "datum.value % 50 === 0 ? datum.label : ''", "labelFont": "Liberation Serif", "titleFont": "Liberation Serif", "labelFontSize": 22, "titleFontSize": 27, "labelPadding": 9.5, "title": "Time (ns)", "titlePadding": 3}}
      },
      "layer": [
        {"mark": {"type": "line", "interpolate": "monotone", "strokeWidth": 3.1, "color": "#111111"},
         "encoding": {"y": {"field": "lg", "type": "quantitative", "scale": {"domain": [-3, 0], "nice": false}, "axis": {"orient": "left", "title": "Log scale", "labels": false, "ticks": false, "titleFont": "Liberation Serif", "titleFontSize": 25, "titlePadding": 4}}}},
        {"mark": {"type": "line", "interpolate": "monotone", "strokeWidth": 3.1, "color": "#111111"},
         "encoding": {"y": {"field": "lg", "type": "quantitative", "scale": {"domain": [-3, 0], "nice": false}, "axis": {"orient": "left", "title": "SMS", "labels": false, "ticks": false, "titleFont": "Liberation Serif", "titleFontSize": 35, "titleFontWeight": "bold", "titlePadding": 30}}}}
      ],
      "resolve": {"axis": {"y": "independent"}}
    },
    {
      "width": 206, "height": 168,
      "data": {"name": "sms2"},
      "mark": {"type": "line", "interpolate": "monotone", "strokeWidth": 3.1, "color": "#111111"},
      "encoding": {
        "x": {"field": "t", "type": "quantitative", "scale": {"domain": [0, 160], "nice": false, "zero": false}, "axis": {"values": [0, 10, 20, 30, 40, 50, 60, 70, 80, 90, 100, 110, 120, 130, 140, 150], "tickSize": {"condition": {"test": "datum.value % 50 === 0", "value": -7}, "value": -4}, "labelExpr": "datum.value % 50 === 0 ? datum.label : ''", "labelFont": "Liberation Serif", "titleFont": "Liberation Serif", "labelFontSize": 22, "titleFontSize": 27, "labelPadding": 9.5, "title": "Time (ns)", "titlePadding": 3}},
        "y": {"field": "lg", "type": "quantitative", "scale": {"domain": [-3, 0], "nice": false}, "axis": null}
      }
    },
    {
      "width": 206, "height": 168,
      "data": {"name": "sms3"},
      "mark": {"type": "line", "interpolate": "monotone", "strokeWidth": 3.1, "color": "#111111"},
      "encoding": {
        "x": {"field": "t", "type": "quantitative", "scale": {"domain": [0, 160], "nice": false, "zero": false}, "axis": {"values": [0, 10, 20, 30, 40, 50, 60, 70, 80, 90, 100, 110, 120, 130, 140, 150], "tickSize": {"condition": {"test": "datum.value % 50 === 0", "value": -7}, "value": -4}, "labelExpr": "datum.value % 50 === 0 ? datum.label : ''", "labelFont": "Liberation Serif", "titleFont": "Liberation Serif", "labelFontSize": 22, "titleFontSize": 27, "labelPadding": 9.5, "title": "Time (ns)", "titlePadding": 3}},
        "y": {"field": "lg", "type": "quantitative", "scale": {"domain": [-3, 0], "nice": false}, "axis": null}
      }
    },
    {
      "width": 206, "height": 168,
      "data": {"name": "sms4"},
      "mark": {"type": "line", "interpolate": "monotone", "strokeWidth": 3.1, "color": "#111111"},
      "encoding": {
        "x": {"field": "t", "type": "quantitative", "scale": {"domain": [0, 160], "nice": false, "zero": false}, "axis": {"values": [0, 10, 20, 30, 40, 50, 60, 70, 80, 90, 100, 110, 120, 130, 140, 150], "tickSize": {"condition": {"test": "datum.value % 50 === 0", "value": -7}, "value": -4}, "labelExpr": "datum.value % 50 === 0 ? datum.label : ''", "labelFont": "Liberation Serif", "titleFont": "Liberation Serif", "labelFontSize": 22, "titleFontSize": 27, "labelPadding": 9.5, "title": "Time (ns)", "titlePadding": 3}},
        "y": {"field": "lg", "type": "quantitative", "scale": {"domain": [-3, 0], "nice": false}, "axis": null}
      }
    },
    {
      "width": 206, "height": 168,
      "data": {"name": "sms5"},
      "mark": {"type": "line", "interpolate": "monotone", "strokeWidth": 3.1, "color": "#111111"},
      "encoding": {
        "x": {"field": "t", "type": "quantitative", "scale": {"domain": [0, 160], "nice": false, "zero": false}, "axis": {"values": [0, 10, 20, 30, 40, 50, 60, 70, 80, 90, 100, 110, 120, 130, 140, 150], "tickSize": {"condition": {"test": "datum.value % 50 === 0", "value": -7}, "value": -4}, "labelExpr": "datum.value % 50 === 0 ? datum.label : ''", "labelFont": "Liberation Serif", "titleFont": "Liberation Serif", "labelFontSize": 22, "titleFontSize": 27, "labelPadding": 9.5, "title": "Time (ns)", "titlePadding": 3}},
        "y": {"field": "lg", "type": "quantitative", "scale": {"domain": [-3, 0], "nice": false}, "axis": null}
      }
    }
  ]
}
